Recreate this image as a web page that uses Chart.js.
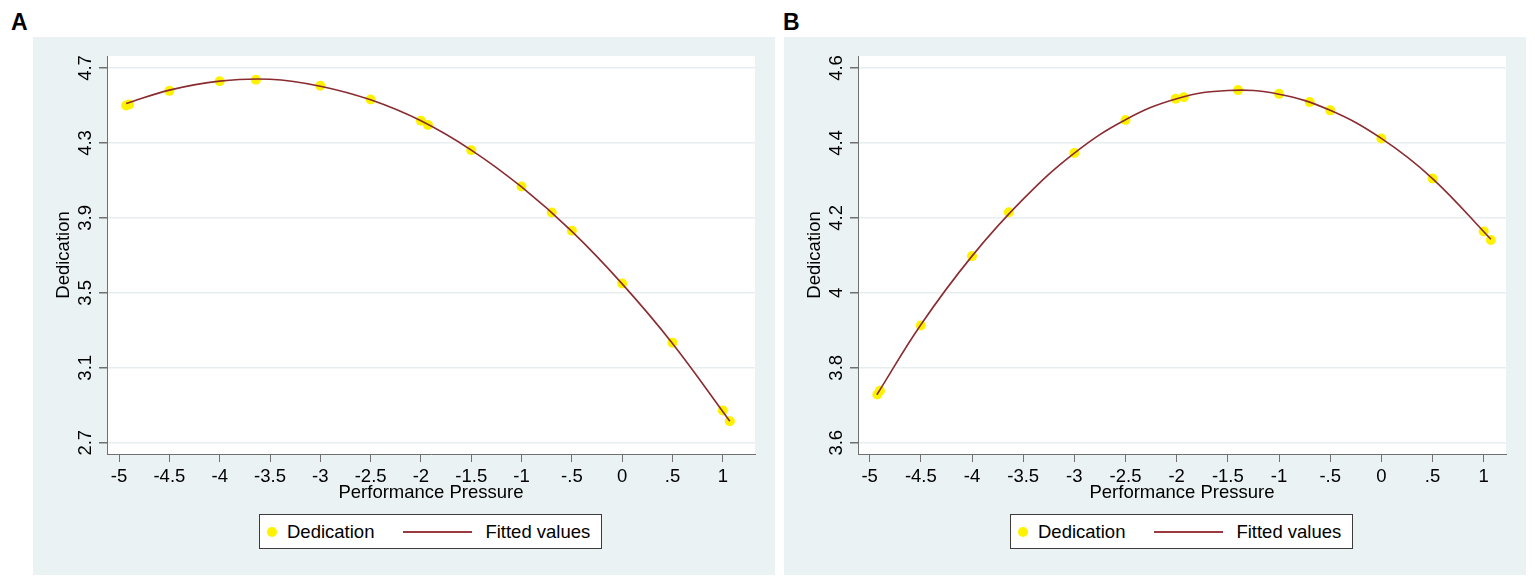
<!DOCTYPE html>
<html>
<head>
<meta charset="utf-8">
<script src="https://cdn.jsdelivr.net/npm/chart.js@4.4.1/dist/chart.umd.min.js"></script>
<style>
  body { margin:0; background:#fff; width:1535px; height:584px; position:relative; overflow:hidden;
         font-family:"Liberation Sans", Arial, sans-serif; color:#000; }
  .tag { position:absolute; top:11px; font-weight:bold; font-size:23px; line-height:1; }
  .panel { position:absolute; top:37px; width:742px; height:538px; background:#eaf2f3; }
  .panel canvas { position:absolute; left:0; top:0; }
  .legend { position:absolute; left:226px; top:477px; width:341px; height:33px; border:1px solid #3c3c3c;
            background:#fff; display:flex; align-items:center; font-size:18.5px; white-space:nowrap; }
  .dot { width:10px; height:10px; border-radius:50%; background:#fff200; margin-left:7px; margin-right:10px; }
  .ln { width:69px; height:2px; background:#9a3a40; margin-left:29px; margin-right:13px; }
</style>
</head>
<body>
<div class="tag" style="left:11px">A</div>
<div class="tag" style="left:783px">B</div>

<div class="panel" style="left:33px">
  <canvas id="chartA" width="742" height="538"></canvas>
  <div class="legend"><span class="dot"></span>Dedication<span class="ln"></span>Fitted values</div>
</div>
<div class="panel" style="left:784px">
  <canvas id="chartB" width="742" height="538"></canvas>
  <div class="legend"><span class="dot"></span>Dedication<span class="ln"></span>Fitted values</div>
</div>

<script>
// observed points, panel A
const pressureA   = [-4.93, -4.90, -4.5, -4.0, -3.64, -3.0, -2.5, -2.0, -1.93, -1.5, -1.0, -0.70, -0.5, 0, 0.5, 1.0, 1.07];
const dedicationA = [4.500, 4.505, 4.578, 4.629, 4.637, 4.605, 4.532, 4.418, 4.396, 4.261, 4.068, 3.929, 3.832, 3.550, 3.234, 2.872, 2.815];
// fitted curve, panel A
const fitXA   = [-4.93, -4.5, -4.0, -3.5, -3.0, -2.5, -2.0, -1.5, -1.0, -0.5, 0, 0.5, 1.07];
const fittedA = [4.510, 4.582, 4.630, 4.640, 4.603, 4.530, 4.418, 4.262, 4.065, 3.828, 3.548, 3.230, 2.815];

// observed points, panel B
const pressureB   = [-4.925, -4.90, -4.5, -4.0, -3.64, -3.0, -2.5, -2.01, -1.93, -1.40, -1.0, -0.70, -0.5, 0, 0.5, 1.0, 1.07];
const dedicationB = [3.729, 3.739, 3.913, 4.098, 4.215, 4.373, 4.461, 4.518, 4.522, 4.541, 4.531, 4.509, 4.487, 4.412, 4.305, 4.164, 4.141];
// fitted curve, panel B
const fitXB   = [-4.93, -4.5, -4.0, -3.5, -3.0, -2.5, -2.0, -1.5, -1.0, -0.5, 0, 0.5, 1.07];
const fittedB = [3.728, 3.915, 4.098, 4.250, 4.373, 4.462, 4.518, 4.540, 4.530, 4.487, 4.412, 4.305, 4.143];

const xTicks      = [-5, -4.5, -4, -3.5, -3, -2.5, -2, -1.5, -1, -0.5, 0, 0.5, 1];
const xTickLabels = ['-5', '-4.5', '-4', '-3.5', '-3', '-2.5', '-2', '-1.5', '-1', '-.5', '0', '.5', '1'];
const yTicksA      = [2.7, 3.1, 3.5, 3.9, 4.3, 4.7];
const yTickLabelsA = ['2.7', '3.1', '3.5', '3.9', '4.3', '4.7'];
const yTicksB      = [3.6, 3.8, 4.0, 4.2, 4.4, 4.6];
const yTickLabelsB = ['3.6', '3.8', '4', '4.2', '4.4', '4.6'];

Chart.defaults.font.family = '"Liberation Sans", Arial, sans-serif';
Chart.defaults.color = '#000';

const axisGray = '#707070';

// white plot region inside the tinted graph region
const plotBackground = {
    id: 'plotBackground',
    beforeDraw(chart) {
        const {ctx, chartArea: a} = chart;
        ctx.save();
        ctx.fillStyle = '#ffffff';
        ctx.fillRect(a.left, a.top, a.right - a.left, a.bottom - a.top);
        ctx.restore();
    }
};

function toPoints(xs, ys) {
    return xs.map((x, i) => ({x: x, y: ys[i]}));
}

function drawPanel(id, px, py, fx, fy, yTicks, yLabels, xRange, yRange) {
    new Chart(document.getElementById(id), {
        type: 'scatter',
        data: {
            datasets: [{
                label: 'Dedication',
                data: toPoints(px, py),
                backgroundColor: '#fff200',
                borderWidth: 0,
                pointRadius: 5,
                order: 1
            }, {
                type: 'line',
                label: 'Fitted values',
                data: toPoints(fx, fy),
                borderColor: '#8a2b30',
                borderWidth: 1.6,
                pointRadius: 0,
                tension: 0.4,
                fill: false,
                order: 0
            }]
        },
        plugins: [plotBackground],
        options: {
            responsive: false,
            animation: false,
            devicePixelRatio: 1,
            layout: {padding: {left: 0, top: 19, right: 20, bottom: 66}},
            plugins: {legend: {display: false}, tooltip: {enabled: false}},
            scales: {
                x: {
                    type: 'linear',
                    min: xRange[0],
                    max: xRange[1],
                    afterBuildTicks: s => { s.ticks = xTicks.map(v => ({value: v})); },
                    afterFit: s => { s.height = 55; },
                    grid: {drawOnChartArea: false, tickColor: axisGray, tickLength: 8},
                    border: {color: axisGray, width: 1},
                    ticks: {
                        autoSkip: false, maxRotation: 0, padding: 4,
                        font: {size: 18.5},
                        callback: (v, i) => xTickLabels[i]
                    },
                    title: {
                        display: true, text: 'Performance Pressure',
                        font: {size: 18.5}, padding: {top: 0, bottom: 5}
                    }
                },
                y: {
                    type: 'linear',
                    min: yRange[0],
                    max: yRange[1],
                    afterBuildTicks: s => { s.ticks = yTicks.map(v => ({value: v})); },
                    afterFit: s => { s.width = 74; },
                    grid: {color: '#e6eef0', lineWidth: 1.5, tickColor: axisGray, tickLength: 8},
                    border: {color: axisGray, width: 1},
                    ticks: {
                        minRotation: 90, maxRotation: 90, crossAlign: 'center', padding: 0,
                        font: {size: 18.5},
                        callback: (v, i) => yLabels[i]
                    },
                    title: {
                        display: true, text: 'Dedication',
                        font: {size: 18.5}, padding: {top: 20, bottom: 0}
                    }
                }
            }
        }
    });
}

drawPanel('chartA', pressureA, dedicationA, fitXA, fittedA, yTicksA, yTickLabelsA, [-5.12, 1.32], [2.64, 4.764]);
drawPanel('chartB', pressureB, dedicationB, fitXB, fittedB, yTicksB, yTickLabelsB, [-5.114, 1.218], [3.570, 4.632]);
</script>
</body>
</html>
